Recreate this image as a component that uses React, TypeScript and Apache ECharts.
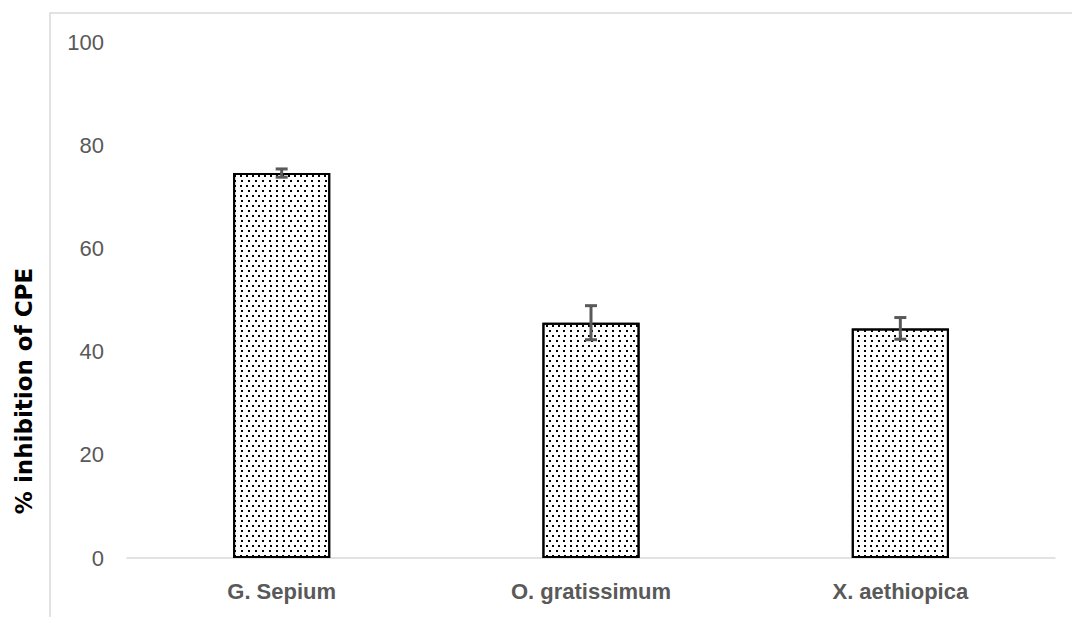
import React, { useEffect, useRef } from "react";
import * as echarts from "echarts";

const categories = ["G. Sepium", "O. gratissimum", "X. aethiopica"];
const values = [74.6, 45.6, 44.5];
const errors = [0.8, 3.3, 2.1];
const yTicks = { min: 0, max: 100, interval: 20 };
const yTitle = "% inhibition of CPE";

export default function App() {
  const ref = useRef<HTMLDivElement>(null);
  useEffect(() => {
    document.body.style.margin = "0";
    const chart = echarts.init(ref.current!, null, { renderer: "svg" });
    const errData = values.map((v, i) => [i, v - errors[i], v + errors[i]]);
    chart.setOption({
      animation: false,
      backgroundColor: "#ffffff",
      grid: { left: 127, right: 17, top: 42, bottom: 59, containLabel: false },
      xAxis: {
        type: "category",
        data: categories,
        axisLine: { show: true, lineStyle: { color: "#d9d9d9", width: 1.5 } },
        axisTick: { show: false },
        axisLabel: {
          margin: 22,
          color: "#595959",
          fontFamily: "Liberation Sans, Arial, sans-serif",
          fontWeight: "bold",
          fontSize: 22,
        },
      },
      yAxis: {
        type: "value",
        min: yTicks.min,
        max: yTicks.max,
        interval: yTicks.interval,
        axisLine: { show: false },
        axisTick: { show: false },
        splitLine: { show: false },
        axisLabel: {
          margin: 23,
          color: "#595959",
          fontFamily: "Liberation Sans, Arial, sans-serif",
          fontSize: 22,
        },
      },
      series: [
        {
          type: "bar",
          data: values,
          barWidth: "31.4%",
          itemStyle: {
            color: "#ffffff",
            borderColor: "#000000",
            borderWidth: 2,
            decal: {
              symbol: "rect",
              symbolSize: 1,
              color: "#000000",
              dashArrayX: [
                [1.4, 3.6],
                [0, 2.5, 1.4, 1.1],
              ],
              dashArrayY: [1.4, 2.6],
              rotation: 0,
            },
          },
          z: 2,
        },
        {
          type: "custom",
          data: errData,
          z: 5,
          renderItem: (params: any, api: any) => {
            const x = api.value(0);
            const lo = api.coord([x, api.value(1)]);
            const hi = api.coord([x, api.value(2)]);
            const half = 6;
            const style = { stroke: "#595959", lineWidth: 3 };
            return {
              type: "group",
              children: [
                { type: "line", shape: { x1: lo[0], y1: lo[1], x2: hi[0], y2: hi[1] }, style },
                { type: "line", shape: { x1: hi[0] - half, y1: hi[1], x2: hi[0] + half, y2: hi[1] }, style },
                { type: "line", shape: { x1: lo[0] - half, y1: lo[1], x2: lo[0] + half, y2: lo[1] }, style },
              ],
            };
          },
        },
      ],
      graphic: [
        {
          type: "rect",
          shape: { x: 50, y: 13, width: 1100, height: 700 },
          style: { fill: "none", stroke: "#d9d9d9", lineWidth: 1.5 },
          silent: true,
        },
        {
          type: "text",
          x: 24,
          y: 391,
          rotation: Math.PI / 2,
          style: {
            text: yTitle,
            fill: "#000000",
            font: "bold 23px 'DejaVu Sans', sans-serif",
            textAlign: "center",
            textVerticalAlign: "middle",
          },
        },
      ],
    });
    return () => chart.dispose();
  }, []);
  return <div ref={ref} style={{ width: 1072, height: 617 }} />;
}
